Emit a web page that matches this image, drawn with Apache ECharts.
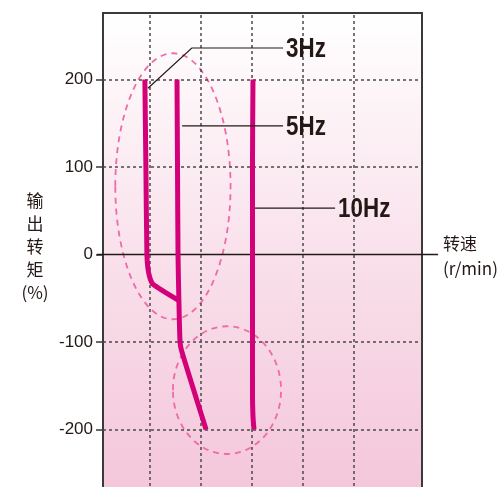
<!DOCTYPE html>
<html><head><meta charset="utf-8">
<script src="https://cdn.jsdelivr.net/npm/echarts@6/dist/echarts.min.js"></script>
<style>html,body{margin:0;padding:0;background:#fff}#c{width:502px;height:487px}</style>
</head><body><div id="c"></div>
<script>
// ---- data ----
const yTicks = [200, 100, 0, -100, -200];
const yGrid = [200, 100, -100, -200];
const xGrid = [0.96, 1.95, 2.95, 3.95, 4.96];
const hz3 = [[0.86, 200], [0.88, 100], [0.90, 0], [0.92, -16], [0.96, -27], [1.02, -34], [1.51, -52]];
const hz5 = [[1.49, 200], [1.50, 100], [1.51, 0], [1.53, -60], [1.55, -100], [1.58, -110], [2.06, -200]];
const hz10 = [[2.98, 200], [2.97, 100], [2.97, 0], [2.97, -160], [2.98, -185], [3.0, -200]];
const seriesNames = ['3Hz', '5Hz', '10Hz'];
const leaderPts = [
  [[0.92, 190], [1.78, 236], [3.57, 236]],
  [[1.59, 147], [3.57, 147]],
  [[3.02, 53], [4.59, 53]]
];
const ellipses = [
  { cx: 1.41, cy: 78, rx: 1.13, ry: 152 },
  { cx: 2.47, cy: -155, rx: 1.06, ry: 73 }
];
const yTitle = '输\n出\n转\n矩\n(%)';
const xTitle = '转速\n(r/min)';

const ink = '#231815';
const magenta = '#d4007a';
const chart = echarts.init(document.getElementById('c'), null, { renderer: 'canvas' });

const lineSeries = (name, data) => ({
  name, type: 'line', data, showSymbol: false, smooth: 0.25, z: 5,
  lineStyle: { color: magenta, width: 5, cap: 'butt', join: 'round' }, animation: false
});

chart.setOption({
  animation: false,
  grid: {
    left: 103, width: 319, top: 13, height: 479, show: true,
    outerBoundsMode: 'none', containLabel: false,
    borderColor: '#3a3a3a', borderWidth: 2,
    backgroundColor: new echarts.graphic.LinearGradient(0, 0, 0, 1, [
      { offset: 0, color: '#ffffff' }, { offset: 0.5, color: '#f9e1eb' }, { offset: 1, color: '#f4c6da' }
    ])
  },
  xAxis: {
    type: 'value', min: 0.039, max: 6.294,
    axisLine: { show: false }, axisTick: { show: false }, axisLabel: { show: false }, splitLine: { show: false }
  },
  yAxis: {
    type: 'value', min: -271.4, max: 276,
    axisLine: { show: true, lineStyle: { color: '#3a3a3a', width: 2 } },
    axisTick: { show: true, customValues: yTicks, length: 7, lineStyle: { color: '#3a3a3a', width: 1.5 } },
    axisLabel: { customValues: yTicks, color: ink, fontSize: 17, fontFamily: 'Liberation Sans, Arial, sans-serif', margin: 10 },
    splitLine: { show: false }
  },
  series: [
    {
      type: 'line', data: [], z: 2, silent: true,
      markLine: {
        silent: true, symbol: 'none', label: { show: false }, animation: false,
        lineStyle: { color: '#4a4a4a', type: [3, 3], width: 1.5 },
        data: xGrid.map(v => ({ xAxis: v })).concat(yGrid.map(v => ({ yAxis: v })))
      }
    },
    lineSeries(seriesNames[0], hz3),
    lineSeries(seriesNames[1], hz5),
    lineSeries(seriesNames[2], hz10)
  ]
});

function px(p) { return chart.convertToPixel({ gridIndex: 0 }, p); }
const g = [];
const origin = px([0.039, 0]);
const rightEdge = px([6.294, 0]);
g.push({ type: 'line', z: 4, shape: { x1: origin[0] - 6, y1: origin[1], x2: rightEdge[0] + 16, y2: origin[1] }, style: { stroke: '#231815', lineWidth: 1.5 } });
ellipses.forEach(e => {
  const c = px([e.cx, e.cy]);
  const r = px([e.cx + e.rx, e.cy + e.ry]);
  g.push({ type: 'ellipse', z: 3, shape: { cx: c[0], cy: c[1], rx: Math.abs(r[0] - c[0]), ry: Math.abs(r[1] - c[1]) },
    style: { fill: 'none', stroke: '#ee6aa8', lineWidth: 1.8, lineDash: [6, 5] } });
});
leaderPts.forEach((pts, i) => {
  const pp = pts.map(px);
  g.push({ type: 'polyline', z: 6, shape: { points: pp }, style: { stroke: ink, lineWidth: 1.2, fill: 'none' } });
  const end = pp[pp.length - 1];
  g.push({ type: 'text', z: 6, x: end[0] + 3, y: end[1] + 1, scaleX: 0.8, style: {
    text: seriesNames[i], fill: ink, font: 'bold 28px "Liberation Sans", Arial, sans-serif',
    textVerticalAlign: 'middle', textAlign: 'left' } });
});
g.push({ type: 'text', z: 6, x: 35, y: 189, style: { text: yTitle, fill: ink, font: '17px "Noto Sans CJK SC", sans-serif', lineHeight: 23, textAlign: 'center' } });
g.push({ type: 'text', z: 6, x: 443, y: 231, style: { text: xTitle, fill: ink, font: '17px "Noto Sans CJK SC", sans-serif', lineHeight: 25, textAlign: 'left' } });
chart.setOption({ graphic: g });
</script>
</body></html>
